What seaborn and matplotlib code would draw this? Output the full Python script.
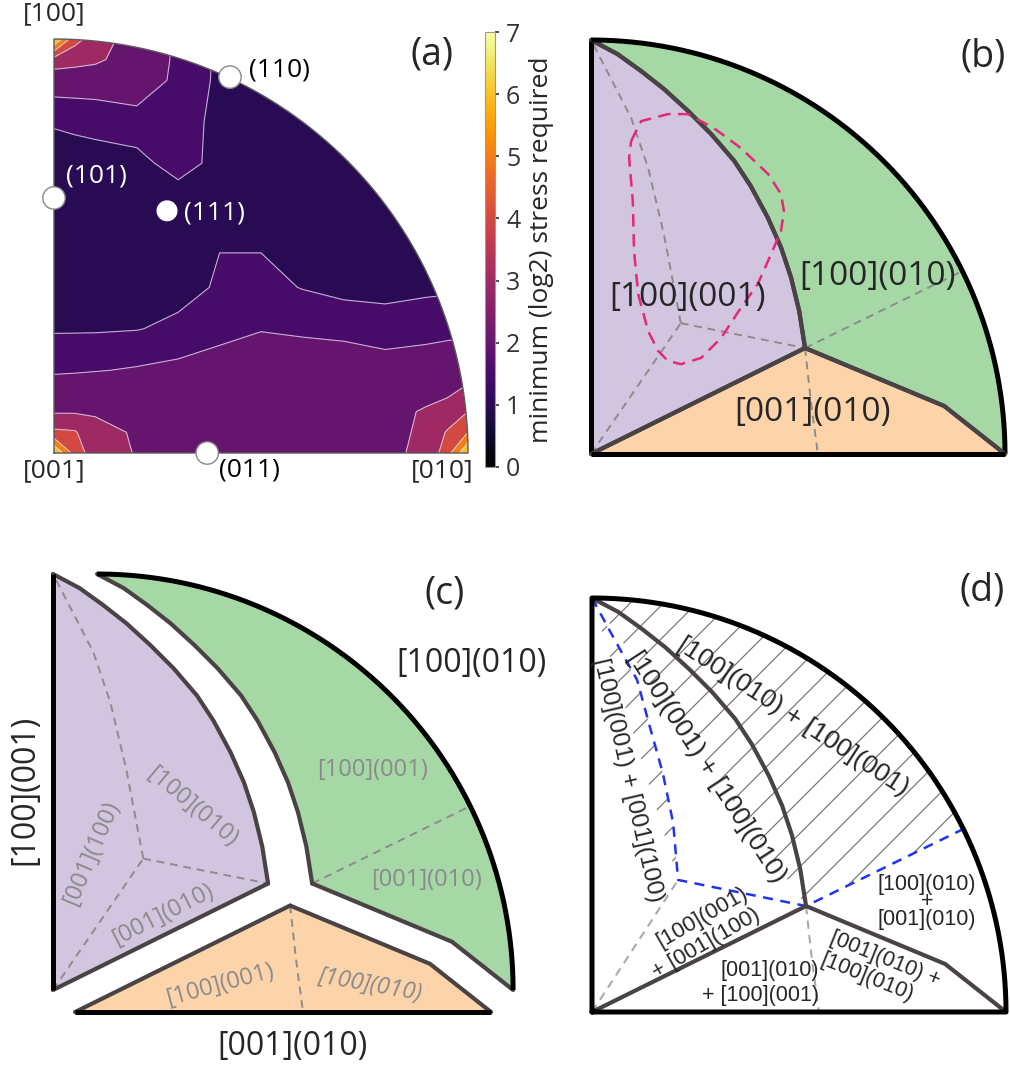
import numpy as np
import matplotlib
matplotlib.use("Agg")
import matplotlib.pyplot as plt
from matplotlib.patches import Wedge
from matplotlib.colors import Normalize
from matplotlib.cm import ScalarMappable
import seaborn as sns

sns.set_theme(style="white")
plt.rcParams["font.family"] = ["Open Sans", "DejaVu Sans"]
plt.rcParams["hatch.linewidth"] = 0.9

W, H = 1010, 1066

# ---------------- panel (a): min log2 stress on a coarse grid (rows = v up, cols = u right)
grid_u = [0.0, 0.05, 0.1, 0.2, 0.3, 0.4, 0.5, 0.6, 0.7, 0.8, 0.9, 0.95, 1.0]
grid_v = [0.0, 0.05, 0.1, 0.2, 0.3, 0.4, 0.5, 0.6, 0.7, 0.8, 0.9, 0.95, 1.0]
stress = [
    [7.0, 4.6, 3.4, 2.95, 2.6, 2.5, 2.5, 2.5, 2.6, 2.85, 3.15, 4.6, 7.0],
    [4.2, 4.1, 3.3, 2.9, 2.55, 2.45, 2.45, 2.45, 2.55, 2.75, 3.15, 4.1, 5.0],
    [2.9, 2.9, 2.9, 2.6, 2.4, 2.3, 2.3, 2.3, 2.35, 2.7, 3.1, 3.3, 4.0],
    [1.9, 1.93, 1.97, 2.05, 2.15, 2.3, 2.4, 2.4, 2.35, 2.2, 2.3, 2.4, 2.5],
    [1.45, 1.45, 1.45, 1.48, 1.6, 1.8, 1.97, 1.9, 1.85, 1.8, 1.82, 1.84, 1.85],
    [1.2, 1.2, 1.2, 1.25, 1.35, 1.55, 1.65, 1.48, 1.35, 1.3, 1.4, 1.42, 1.45],
    [1.1, 1.1, 1.1, 1.15, 1.25, 1.49, 1.47, 1.3, 1.2, 1.15, 1.15, 1.15, 1.2],
    [1.15, 1.15, 1.15, 1.2, 1.2, 1.35, 1.2, 1.1, 1.1, 1.1, 1.1, 1.1, 1.1],
    [1.25, 1.28, 1.3, 1.35, 1.7, 1.35, 1.2, 1.1, 1.1, 1.1, 1.1, 1.1, 1.1],
    [1.55, 1.6, 1.65, 1.75, 1.75, 1.35, 1.2, 1.15, 1.1, 1.1, 1.1, 1.1, 1.1],
    [2.3, 2.3, 2.3, 2.4, 1.85, 1.4, 1.3, 1.2, 1.1, 1.1, 1.1, 1.1, 1.1],
    [3.6, 3.4, 3.2, 2.4, 1.9, 1.4, 1.3, 1.2, 1.1, 1.1, 1.1, 1.1, 1.1],
    [7.0, 4.3, 3.6, 2.4, 1.9, 1.4, 1.3, 1.2, 1.1, 1.1, 1.1, 1.1, 1.1],
]
stress_levels = [1.0, 1.5, 2.0, 3.0, 4.0, 5.0, 6.0, 7.0]

pole_names = ["(101)", "(111)", "(110)", "(011)"]
pole_u = [0.0, 0.273, 0.425, 0.37]
pole_v = [0.616, 0.585, 0.908, 0.0]
pole_size = [260, 200, 260, 260]
pole_label_u = [0.03, 0.315, 0.47, 0.473]
pole_label_v = [0.67, 0.58, 0.925, -0.042]

# ---------------- schematic geometry (unit quarter circle)
triple = (0.517, 0.256)
inner = (0.217, 0.316)
arc_pt = (0.901, 0.444)
bnd_u = [0.0, 0.064, 0.121, 0.177, 0.234, 0.290, 0.346, 0.386, 0.427, 0.459, 0.483, 0.503, 0.517]
bnd_v = [1.0, 0.966, 0.925, 0.881, 0.829, 0.773, 0.708, 0.647, 0.571, 0.499, 0.427, 0.345, 0.256]
right_u = [0.517, 0.853, 1.0]
right_v = [0.256, 0.116, 0.0]
dash_up_u = [0.217, 0.176, 0.138, 0.097, 0.0]
dash_up_v = [0.316, 0.531, 0.691, 0.812, 1.0]
dash_down_u = [0.517, 0.531, 0.548]
dash_down_v = [0.256, 0.128, 0.0]
loop_u = [0.097, 0.121, 0.186, 0.234, 0.297, 0.362, 0.428, 0.459, 0.466, 0.459, 0.435, 0.403,
          0.362, 0.314, 0.266, 0.217, 0.186, 0.162, 0.138, 0.114, 0.104, 0.101, 0.092, 0.097]
loop_v = [0.756, 0.804, 0.821, 0.821, 0.787, 0.739, 0.676, 0.628, 0.587, 0.539, 0.483, 0.411,
          0.353, 0.280, 0.232, 0.217, 0.225, 0.249, 0.297, 0.386, 0.490, 0.611, 0.715, 0.756]
blue_u = [0.0, 0.051, 0.109, 0.140, 0.171, 0.196, 0.208]
blue_v = [1.0, 0.906, 0.802, 0.688, 0.577, 0.457, 0.319]

c_purple, c_green, c_orange = "#d2c5e0", "#a6d8a6", "#fdd4aa"
c_edge, c_dash = "#4a4345", "#8c8c8c"

fig = plt.figure(figsize=(W / 100, H / 100), dpi=100)


def panel(ox, oy, r, lo=-0.3, hi=1.3):
    span = (hi - lo) * r
    ax = fig.add_axes([(ox + lo * r) / W, (H - oy + lo * r) / H, span / W, span / H])
    ax.set_xlim(lo, hi)
    ax.set_ylim(lo, hi)
    ax.set_axis_off()
    return ax


theta = np.linspace(0, np.pi / 2, 200)
arc_x, arc_y = np.cos(theta), np.sin(theta)

# ---------------- (a)
ax = panel(54, 453, 414)
cmap = sns.color_palette("inferno", as_cmap=True)
band_colors = [cmap(l / 7) for l in stress_levels[:-1]]
U, V = np.meshgrid(grid_u, grid_v)
Z = np.array(stress)
clip = Wedge((0, 0), 1, 0, 90, transform=ax.transData)
cf = ax.contourf(U, V, Z, levels=stress_levels, colors=band_colors)
cf.set_clip_path(clip)
cl = ax.contour(U, V, Z, levels=stress_levels[1:-1], colors="#d9cce6", linewidths=0.8, alpha=0.85)
cl.set_clip_path(clip)
ax.plot(np.r_[0, arc_x, 0, 0], np.r_[0, arc_y, 1, 0], color="#5a5a5a", lw=1.0)
ax.scatter(pole_u, pole_v, s=pole_size, c="white",
           edgecolors=["#888888", "white", "#888888", "#888888"], linewidths=1.0, zorder=5, clip_on=False)
for name, x, y in zip(pole_names, pole_label_u, pole_label_v):
    ha = "center" if name == "(011)" else "left"
    col = "black" if name in ("(110)", "(011)") else "white"
    ax.text(x, y, name, fontsize=19, color=col, ha=ha, va="center")
ax.text(0, 1.06, "[100]", fontsize=19, ha="center", va="center")
ax.text(0, -0.042, "[001]", fontsize=19, ha="center", va="center")
ax.text(0.937, -0.042, "[010]", fontsize=19, ha="center", va="center")
ax.text(0.913, 0.963, "(a)", fontsize=27, ha="center", va="center")

cax = fig.add_axes([485 / W, (H - 467) / H, 10 / W, 435 / H])
cb = fig.colorbar(ScalarMappable(norm=Normalize(0, 7), cmap=cmap), cax=cax)
cb.set_ticks(range(8))
cb.ax.tick_params(labelsize=18, length=3, colors="#333333", pad=5)
cb.outline.set_edgecolor("#999999")
cb.outline.set_linewidth(0.8)
cb.set_label("minimum (log2) stress required", fontsize=19, labelpad=6)


# ---------------- region drawing for (b) and (c)
def draw_map(ax, off_p=(0, 0), off_g=(0, 0), off_o=(0, 0)):
    # purple
    px, py = off_p
    ax.fill(px + np.r_[0, bnd_u[::-1]], py + np.r_[0, bnd_v[::-1]], color=c_purple, lw=0)
    for xs, ys in [(dash_up_u, dash_up_v), ([0, inner[0]], [0, inner[1]]),
                   ([inner[0], triple[0]], [inner[1], triple[1]])]:
        ax.plot(px + np.array(xs), py + np.array(ys), color=c_dash, lw=1.4, ls=(0, (4, 3)))
    # green
    gx, gy = off_g
    ax.fill(gx + np.r_[bnd_u, right_u, arc_x], gy + np.r_[bnd_v, right_v, arc_y], color=c_green, lw=0)
    ax.plot(gx + np.array([triple[0], arc_pt[0]]), gy + np.array([triple[1], arc_pt[1]]),
            color=c_dash, lw=1.4, ls=(0, (4, 3)))
    # orange
    ox, oy = off_o
    ax.fill(ox + np.r_[0, right_u], oy + np.r_[0, right_v], color=c_orange, lw=0)
    ax.plot(ox + np.array(dash_down_u), oy + np.array(dash_down_v), color=c_dash, lw=1.4, ls=(0, (4, 3)))
    # edges
    kw_e = dict(color=c_edge, lw=3.0, solid_capstyle="round", solid_joinstyle="round")
    kw_b = dict(color="black", lw=3.6, solid_capstyle="butt")
    ax.plot(px + np.array(bnd_u), py + np.array(bnd_v), **kw_e)
    ax.plot(px + np.array([0, triple[0]]), py + np.array([0, triple[1]]), **kw_e)
    ax.plot(px + np.array([0, 0]), py + np.array([0, 1]), **kw_b)
    ax.plot(gx + np.array(bnd_u), gy + np.array(bnd_v), **kw_e)
    ax.plot(gx + np.array(right_u), gy + np.array(right_v), **kw_e)
    ax.plot(gx + arc_x, gy + arc_y, **kw_b)
    ax.plot(ox + np.array([0, triple[0]]), oy + np.array([0, triple[1]]), **kw_e)
    ax.plot(ox + np.array(right_u), oy + np.array(right_v), **kw_e)
    ax.plot(ox + np.array([0, 1]), oy + np.array([0, 0]), **kw_b)


# ---------------- (b)
ax = panel(591, 454, 414)
draw_map(ax)
ax.plot(loop_u, loop_v, color="#e4287a", lw=1.8, ls=(0, (5, 3)))
ax.text(0.234, 0.379, "[100](001)", fontsize=24, ha="center", va="center")
ax.text(0.693, 0.428, "[100](010)", fontsize=24, ha="center", va="center")
ax.text(0.534, 0.101, "[001](010)", fontsize=24, ha="center", va="center")
ax.text(0.947, 0.959, "(b)", fontsize=27, ha="center", va="center")

# ---------------- (c)
ax = panel(53, 990, 416)
draw_map(ax, off_p=(0, 0), off_g=(0.106, 0), off_o=(0.053, -0.053))
g = "#8a8a8a"
ax.text(0.769, 0.529, "[100](001)", fontsize=17, color=g, ha="center", va="center")
ax.text(0.899, 0.264, "[001](010)", fontsize=17, color=g, ha="center", va="center")
ax.text(0.334, 0.44, "[100](010)", fontsize=17, color=g, ha="center", va="center", rotation=-40)
ax.text(0.092, 0.33, "[001](100)", fontsize=17, color=g, ha="center", va="center", rotation=67)
ax.text(0.264, 0.18, "[001](010)", fontsize=17, color=g, ha="center", va="center", rotation=27)
ax.text(0.401, 0.012, "[100](001)", fontsize=17, color=g, ha="center", va="center", rotation=15)
ax.text(0.762, 0.012, "[100](010)", fontsize=17, color=g, ha="center", va="center", rotation=-10,
        style="italic")
ax.text(1.007, 0.786, "[100](010)", fontsize=23, ha="center", va="center")
ax.text(-0.067, 0.481, "[100](001)", fontsize=23, ha="center", va="center", rotation=90)
ax.text(0.575, -0.137, "[001](010)", fontsize=23, ha="center", va="center")
ax.text(0.942, 0.954, "(c)", fontsize=27, ha="center", va="center")

# ---------------- (d)
ax = panel(592, 1012, 414)
ang0 = np.arctan2(arc_pt[1], arc_pt[0])
t2 = np.linspace(ang0, np.pi / 2, 100)
hx = np.r_[blue_u[::-1], triple[0], arc_pt[0], np.cos(t2)]
hy = np.r_[blue_v[::-1], triple[1], arc_pt[1], np.sin(t2)]
ax.fill(hx, hy, facecolor="none", edgecolor="#7a7a7a", hatch="/", lw=0)
ax.plot([0, blue_u[-1]], [0, blue_v[-1]], color="#aaaaaa", lw=1.5, ls=(0, (4, 3)))
ax.plot(dash_down_u, dash_down_v, color="#aaaaaa", lw=1.5, ls=(0, (4, 3)))
ax.plot(np.r_[blue_u, triple[0], arc_pt[0]], np.r_[blue_v, triple[1], arc_pt[1]],
        color="#2233ee", lw=1.8, ls=(0, (4, 3)))
kw_e = dict(color=c_edge, lw=3.0, solid_capstyle="round", solid_joinstyle="round")
ax.plot(bnd_u, bnd_v, **kw_e)
ax.plot([0, triple[0]], [0, triple[1]], **kw_e)
ax.plot(right_u, right_v, **kw_e)
ax.plot(np.r_[0, arc_x, 0, 0], np.r_[0, arc_y, 1, 0], color="black", lw=3.6)
fd = ["Liberation Sans", "DejaVu Sans"]
ax.text(0.486, 0.713, "[100](010) + [100](001)", fontsize=19, family=fd, ha="center", va="center", rotation=-33)
ax.text(0.278, 0.592, "[100](001) + [100](010)", fontsize=19, family=fd, ha="center", va="center", rotation=-57)
ax.text(0.087, 0.56, "[100](001) + [001](100)", fontsize=17.5, family=fd, ha="center", va="center", rotation=-77)
ax.text(0.809, 0.266, "[100](010)\n+\n[001](010)", fontsize=15.5, family=fd, ha="center", va="center",
        linespacing=0.8)
ax.text(0.696, 0.101, "[001](010) +\n[100](010)", fontsize=15.5, family=fd, ha="center", va="center",
        rotation=-22, multialignment="left")
ax.text(0.261, 0.191, "[100](001)\n+ [001](100)", fontsize=16, family=fd, ha="center", va="center",
        rotation=30, multialignment="right")
ax.text(0.406, 0.07, "[001](010)\n+ [100](001)", fontsize=15.5, family=fd, ha="center", va="center",
        multialignment="right")
ax.text(0.942, 1.019, "(d)", fontsize=27, ha="center", va="center")

fig.savefig("out.png", dpi=100)
